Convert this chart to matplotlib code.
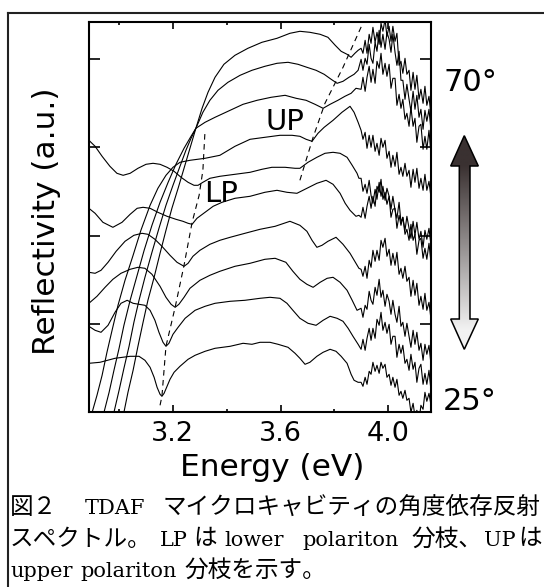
import matplotlib
matplotlib.use('Agg')
import matplotlib.pyplot as plt
import numpy as np
from matplotlib.patches import Polygon
from matplotlib.lines import Line2D

# ---------------- data (energy in eV, reflectivity in a.u., curves offset) ----------------
angles = [25, 30, 35, 40, 45, 50, 55, 60, 65, 70]

# shared energy grid of the noisy high-energy part
e_hi = [3.899, 3.906, 3.914, 3.921, 3.929, 3.936, 3.943, 3.951, 3.958, 3.966, 3.973, 3.980,
        3.988, 3.995, 4.003, 4.010, 4.017, 4.025, 4.032, 4.040, 4.047, 4.054, 4.062, 4.069,
        4.077, 4.084, 4.092, 4.099, 4.106, 4.114, 4.121, 4.129, 4.136, 4.143, 4.151, 4.158]

e25 = [2.889, 2.930, 2.986, 3.042, 3.075, 3.097, 3.116, 3.131, 3.142, 3.153, 3.160, 3.168, 3.179, 3.190,
       3.205, 3.227, 3.257, 3.283, 3.320, 3.357, 3.413, 3.461, 3.494, 3.524, 3.561, 3.591, 3.628, 3.654,
       3.672, 3.691, 3.709, 3.735, 3.758, 3.784, 3.806, 3.825, 3.847, 3.862, 3.873, 3.888]
r25 = [49, 50, 54, 56, 56, 52, 45, 35, 25, 18, 16, 19, 26, 33, 40, 46, 53, 57, 61, 64, 66, 69, 68, 70,
       70, 68, 65, 59, 54, 48, 50, 56, 60, 63, 61, 56, 49, 38, 32, 30]
n25 = [30, 26, 35, 28, 41, 38, 50, 41, 47, 39, 50, 44, 48, 35, 38, 27, 35, 25, 33, 17, 21, 14, 22, 12,
       14, 0, 9, -4, 2, -9, 7, 3, 20, 11, 19, 8]

e30 = [2.889, 2.912, 2.934, 2.960, 2.986, 3.008, 3.031, 3.053, 3.075, 3.097, 3.116, 3.134, 3.149, 3.164,
       3.175, 3.186, 3.201, 3.220, 3.246, 3.283, 3.320, 3.357, 3.413, 3.468, 3.524, 3.561, 3.598, 3.624,
       3.646, 3.672, 3.702, 3.732, 3.758, 3.784, 3.810, 3.832, 3.851, 3.869, 3.888]
r30 = [86, 82, 80, 87, 100, 109, 112, 109, 108, 107, 102, 92, 80, 70, 66, 69, 78, 85, 94, 102, 106, 109,
       111, 112, 114, 115, 114, 109, 102, 94, 89, 87, 92, 96, 94, 91, 84, 76, 68]
n30 = [63, 73, 62, 74, 84, 72, 84, 74, 93, 87, 100, 82, 90, 79, 88, 68, 76, 76, 55, 68, 59, 67, 49, 53,
       42, 58, 43, 50, 30, 44, 48, 28, 39, 28, 42, 23]

e35 = [2.889, 2.919, 2.949, 2.978, 3.008, 3.042, 3.071, 3.097, 3.123, 3.153, 3.175, 3.194, 3.209, 3.223,
       3.242, 3.264, 3.301, 3.338, 3.375, 3.431, 3.487, 3.542, 3.580, 3.620, 3.646, 3.672, 3.698, 3.721,
       3.747, 3.773, 3.795, 3.821, 3.847, 3.866, 3.884]
r35 = [109, 116, 125, 133, 139, 143, 145, 144, 138, 126, 115, 108, 105, 108, 115, 124, 132, 137, 141, 146,
       149, 153, 154, 150, 141, 133, 128, 125, 130, 134, 135, 130, 122, 112, 102]
n35 = [104, 95, 107, 103, 121, 112, 108, 125, 117, 133, 115, 122, 106, 118, 111, 98, 112, 98, 90, 106,
       86, 90, 76, 89, 76, 65, 82, 68, 80, 62, 69, 52, 68, 58, 67, 49]

e40 = [2.889, 2.912, 2.934, 2.960, 2.990, 3.023, 3.056, 3.086, 3.108, 3.134, 3.160, 3.190, 3.216, 3.242,
       3.257, 3.275, 3.301, 3.338, 3.375, 3.413, 3.468, 3.524, 3.580, 3.635, 3.672, 3.698, 3.717, 3.735,
       3.754, 3.776, 3.806, 3.832, 3.858, 3.880, 3.891]
r40 = [140, 139, 142, 150, 161, 171, 177, 179, 178, 173, 166, 157, 150, 146, 149, 156, 162, 168, 172, 175,
       179, 183, 186, 191, 187, 181, 172, 165, 167, 171, 175, 168, 159, 149, 144]
n40 = [143, 136, 146, 134, 152, 145, 162, 151, 162, 152, 172, 165, 174, 156, 163, 147, 159, 147, 160, 138,
       144, 134, 146, 131, 135, 116, 132, 117, 129, 107, 116, 103, 119, 102, 110, 94]

e45 = [2.889, 2.912, 2.941, 2.978, 3.012, 3.042, 3.068, 3.090, 3.116, 3.145, 3.179, 3.212, 3.238, 3.257,
       3.272, 3.290, 3.320, 3.350, 3.383, 3.431, 3.487, 3.542, 3.587, 3.624, 3.661, 3.698, 3.735, 3.769,
       3.795, 3.821, 3.840, 3.858, 3.880, 3.891]
r45 = [204, 199, 190, 185, 190, 198, 204, 205, 204, 200, 196, 193, 191, 189, 188, 194, 200, 206, 210, 214,
       216, 220, 222, 220, 219, 224, 229, 232, 228, 219, 209, 202, 196, 197]
n45 = [195, 205, 194, 206, 216, 204, 216, 206, 226, 220, 233, 213, 220, 208, 216, 195, 203, 204, 184, 197,
       187, 195, 178, 183, 172, 188, 172, 178, 158, 172, 174, 154, 164, 153, 169, 151]

e50 = [2.889, 2.912, 2.938, 2.967, 2.993, 3.016, 3.042, 3.071, 3.101, 3.127, 3.153, 3.179, 3.205, 3.231,
       3.257, 3.279, 3.294, 3.312, 3.338, 3.375, 3.431, 3.487, 3.531, 3.568, 3.617, 3.654, 3.672, 3.702,
       3.735, 3.765, 3.795, 3.821, 3.847, 3.866, 3.884, 3.891]
r50 = [272, 266, 256, 246, 239, 237, 239, 244, 248, 249, 248, 245, 241, 235, 230, 227, 227, 230, 234, 236,
       238, 240, 243, 245, 245, 244, 244, 250, 255, 259, 260, 259, 255, 247, 239, 234]
n50 = [234, 221, 228, 219, 232, 217, 209, 223, 213, 230, 216, 226, 212, 224, 216, 203, 216, 202, 194, 210,
       190, 195, 182, 196, 184, 174, 191, 177, 190, 173, 181, 165, 182, 173, 184, 168]

e55 = [2.889, 2.901, 2.919, 2.938, 2.956, 2.975, 2.997, 3.023, 3.053, 3.082, 3.116, 3.145, 3.175, 3.201,
       3.227, 3.264, 3.320, 3.375, 3.431, 3.487, 3.542, 3.598, 3.643, 3.672, 3.695, 3.717, 3.739, 3.762,
       3.795, 3.828, 3.858, 3.873, 3.888]
r55 = [-13, 0, 17, 37, 60, 82, 107, 132, 157, 182, 207, 224, 237, 245, 250, 252, 254, 257, 266, 273,
       275, 277, 277, 276, 273, 271, 279, 285, 292, 300, 306, 300, 290]
n55 = [282, 273, 280, 264, 277, 265, 277, 261, 269, 257, 274, 265, 272, 254, 261, 245, 257, 246, 260, 238,
       245, 236, 249, 236, 242, 225, 243, 230, 244, 224, 234, 222, 238, 222, 231, 216]

e60 = [2.930, 2.945, 2.964, 2.982, 3.001, 3.019, 3.042, 3.068, 3.094, 3.123, 3.153, 3.183, 3.212, 3.242,
       3.268, 3.286, 3.320, 3.357, 3.413, 3.461, 3.513, 3.565, 3.617, 3.658, 3.695, 3.728, 3.758, 3.784,
       3.813, 3.839, 3.862, 3.880]
r60 = [-13, 0, 20, 42, 64, 87, 112, 137, 162, 187, 210, 230, 248, 264, 276, 284, 290, 295, 302, 308,
       312, 315, 317, 314, 312, 308, 304, 308, 312, 316, 319, 324]
n60 = [323, 335, 321, 335, 346, 330, 343, 329, 351, 344, 359, 338, 349, 336, 348, 324, 334, 334, 307, 318,
       304, 313, 293, 299, 286, 305, 286, 294, 270, 286, 288, 263, 276, 263, 282, 260]

e65 = [2.967, 2.982, 3.001, 3.019, 3.038, 3.056, 3.075, 3.097, 3.123, 3.149, 3.175, 3.201, 3.227, 3.249,
       3.268, 3.286, 3.312, 3.338, 3.368, 3.405, 3.450, 3.494, 3.542, 3.587, 3.628, 3.665, 3.698, 3.732,
       3.762, 3.788, 3.810, 3.832, 3.854, 3.873, 3.888]
r65 = [-13, 0, 22, 44, 66, 90, 112, 135, 160, 184, 207, 227, 246, 262, 274, 284, 300, 312, 322, 330,
       337, 342, 346, 349, 350, 348, 345, 342, 338, 333, 329, 331, 335, 338, 342]
n65 = [353, 342, 354, 348, 368, 354, 349, 370, 361, 382, 365, 378, 363, 380, 373, 360, 378, 360, 347, 361,
       332, 332, 313, 328, 313, 301, 321, 303, 317, 295, 303, 283, 302, 291, 303, 283]

e70 = [3.004, 3.019, 3.034, 3.053, 3.071, 3.090, 3.108, 3.131, 3.153, 3.175, 3.197, 3.220, 3.242, 3.264,
       3.286, 3.309, 3.331, 3.357, 3.390, 3.431, 3.479, 3.531, 3.587, 3.635, 3.672, 3.709, 3.747, 3.776,
       3.803, 3.825, 3.847, 3.862, 3.876, 3.888]
r70 = [-13, 0, 20, 42, 66, 90, 112, 135, 159, 182, 204, 224, 244, 264, 284, 304, 320, 335, 348, 357,
       364, 370, 374, 379, 381, 380, 378, 375, 367, 361, 358, 355, 359, 362]
n70 = [364, 359, 372, 359, 378, 369, 385, 370, 380, 368, 389, 381, 393, 376, 386, 371, 386, 371, 379, 347,
       351, 339, 354, 338, 342, 322, 340, 323, 337, 313, 323, 309, 326, 307, 316, 298]

# dashed guide lines for the polariton branches
lp_e = [3.153, 3.160, 3.175, 3.209, 3.242, 3.272, 3.298, 3.312, 3.320]
lp_r = [7, 16, 66, 105, 147, 190, 217, 242, 282]
up_e = [3.672, 3.721, 3.765, 3.832, 3.902]
up_r = [232, 275, 309, 345, 387]

xticks_major = [3.2, 3.6, 4.0]
xticks_minor = [3.0, 3.4, 3.8]
yticks = [0, 88.3, 176.6, 264.9, 353.2]

# caption pieces: (text, kind) per line; 'j' = Japanese gothic, 'l' = Latin serif
caption_line1 = [("図２", 'j'), ("TDAF", 'l'), ("マイクロキャビティの角度依存反射", 'j')]
caption_line2 = [("スペクトル。", 'j'), ("LP", 'l'), ("は", 'j'), ("lower", 'l'), ("polariton", 'l'),
                 ("分枝、", 'j'), ("UP", 'l'), ("は", 'j')]
caption_line3 = [("upper", 'l'), ("polariton", 'l'), ("分枝を示す。", 'j')]

# ---------------- figure ----------------
W, H = 544, 587
fig = plt.figure(figsize=(W / 100, H / 100), dpi=100)
fig.patch.set_facecolor('white')

def fx(px):
    return px / W

def fy(py):
    return 1 - py / H

ax = fig.add_axes([fx(89.3), fy(412.3), fx(430.5) - fx(89.3), fy(22) - fy(412.3)])

series = [(e25, r25, n25), (e30, r30, n30), (e35, r35, n35), (e40, r40, n40), (e45, r45, n45),
          (e50, r50, n50), (e55, r55, n55), (e60, r60, n60), (e65, r65, n65), (e70, r70, n70)]
for e, r, n in series:
    ax.plot(list(e) + e_hi, list(r) + n, color='black', lw=0.8)

ax.plot(lp_e, lp_r, color='black', lw=0.8, ls=(0, (5, 4)))
ax.plot(up_e, up_r, color='black', lw=0.8, ls=(0, (5, 4)))

ax.set_xlim(2.8905, 4.1566)
ax.set_ylim(0, 390.3)
ax.set_xticks(xticks_major)
ax.set_xticks(xticks_minor, minor=True)
ax.set_xticklabels([f"{v:.1f}" for v in xticks_major])
ax.set_yticks(yticks)
ax.tick_params(axis='x', which='both', direction='in', top=True, bottom=True, width=1.2)
ax.tick_params(axis='x', which='major', length=5, labelsize=19.5, pad=6)
ax.tick_params(axis='x', which='minor', length=2.5)
ax.tick_params(axis='y', direction='in', left=True, right=True, length=7.7, width=1.2,
               labelleft=False)
for s in ax.spines.values():
    s.set_linewidth(1.5)

ax.text(3.617, 290, "UP", fontsize=21, ha='center', va='center')
ax.text(3.379, 218, "LP", fontsize=21, ha='center', va='center')

fig.text(fx(443), fy(91), "70°", fontsize=22, ha='left', va='baseline')
fig.text(fx(443), fy(410), "25°", fontsize=22, ha='left', va='baseline')
fig.text(fx(272), fy(467), "Energy (eV)", fontsize=22.5, ha='center', va='center')
fig.text(fx(47), fy(221), "Reflectivity (a.u.)", fontsize=22.5, ha='center', va='center',
         rotation=90)

# caption, placed piece by piece (justified like the original)
styles = {'j': dict(fontsize=17, family=['Noto Sans CJK JP']),
          'l': dict(fontsize=15, family=['DejaVu Serif'])}
line_x = [[10, 85, 163],
          [10, 160, 193, 224, 302, 411, 484, 518],
          [10, 80, 184]]
line_base = [514, 545.5, 577]
for pieces, xs, yb in zip([caption_line1, caption_line2, caption_line3], line_x, line_base):
    for (txt, kind), x0 in zip(pieces, xs):
        fig.text(fx(x0), fy(yb), txt, ha='left', va='baseline', **styles[kind])

# outer frame (top and left edges visible)
fig.add_artist(Line2D([fx(8), 1.0], [fy(13.3), fy(13.3)], color='#222222', lw=1.5))
fig.add_artist(Line2D([fx(8), fx(8)], [fy(13.3), 0.0], color='#222222', lw=1.5))

# gradient double arrow
aa = fig.add_axes([fx(445), fy(355), fx(485) - fx(445), fy(130) - fy(355)])
aa.set_xlim(445, 485)
aa.set_ylim(355, 130)
aa.axis('off')
ys = np.linspace(130, 355, 300)
dark = np.array([0x3a, 0x31, 0x31]) / 255
light = np.array([0xf2, 0xf2, 0xf2]) / 255
t = np.clip((ys - 166) / (330 - 166), 0, 1)
grad = dark[None, :] * (1 - t[:, None]) + light[None, :] * t[:, None]
img = aa.imshow(grad[:, None, :], extent=(445, 485, 355, 130), aspect='auto', origin='upper')
pts = [(464.3, 135.7), (478.3, 166), (470, 166), (470, 319), (478.3, 319), (464.3, 349.3),
       (450.7, 319), (459.3, 319), (459.3, 166), (450.7, 166)]
poly = Polygon(pts, closed=True, facecolor='none', edgecolor='black', lw=1.1, joinstyle='miter')
aa.add_patch(poly)
img.set_clip_path(poly)

fig.savefig('out.png', dpi=100, facecolor='white')
